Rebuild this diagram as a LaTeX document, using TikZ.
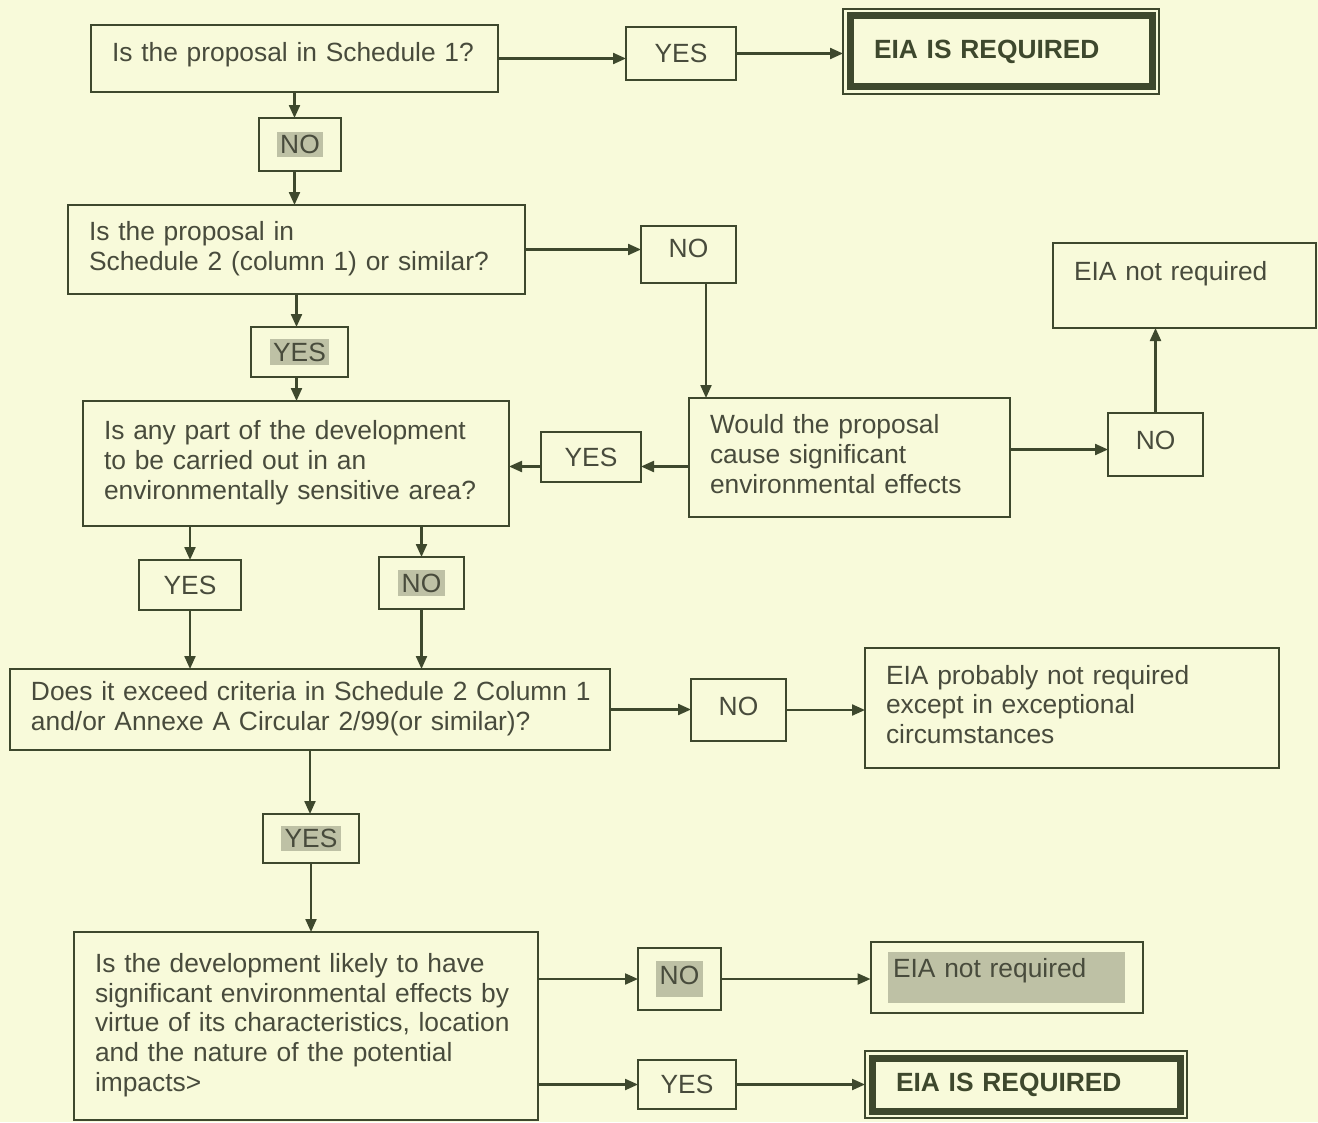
\documentclass[tikz,border=0pt]{standalone}
\usepackage{fontspec}
\setmainfont{Liberation Sans}
\usetikzlibrary{arrows.meta,positioning,calc,fit}

\definecolor{paper}{RGB}{248,250,218}
\definecolor{ink}{RGB}{62,72,45}
\definecolor{txt}{RGB}{72,75,60}
\definecolor{hl}{RGB}{190,193,165}

\newlength{\px}\setlength{\px}{0.02cm}
\newcommand{\qlines}[1]{\begin{tabular}{@{}l@{}}#1\end{tabular}}
\newcommand{\hlt}[1]{\colorbox{hl}{#1}}
\setlength{\fboxsep}{2pt}

\tikzset{
  box/.style={draw=ink, line width=2.2\px, text=txt, font=\fontsize{15}{17}\selectfont, inner sep=0pt, outer sep=0pt},
  question/.style={box, align=left, inner xsep=21\px},
  answer/.style={box, align=center},
  final/.style={box, line width=7\px, font=\fontsize{15}{17}\selectfont\bfseries, text=ink, align=left, inner xsep=24\px},
  frame/.style={draw=ink, line width=2\px, inner sep=7\px, outer sep=0pt},
  arr/.style={draw=ink, line width=2.2\px, -{Triangle[length=0.26cm,width=0.22cm]}}
}

\begin{document}
\begin{tikzpicture}[x=0.02cm, y=-0.02cm]
  \fill[paper] (0,0) rectangle (1318,1122); % page
  \useasboundingbox (0,0) rectangle (1318,1122);

  % first row
  \node[question, minimum width=407\px, minimum height=67\px, text width=365\px, text depth=7.4pt] (q1) at (294.5,58.5) {Is the proposal in Schedule 1?};
  \node[answer, minimum width=110\px, minimum height=53\px] (yes1) at (681,53.5) {YES};
  \node[final, minimum width=302\px, minimum height=71\px, text width=254\px] (eia1) at (1001,51.5) {EIA IS REQUIRED};
  \node[frame, fit=(eia1)] (eia1o) {};
  \node[answer, minimum width=82\px, minimum height=53\px] (no1) at (300,144.5) {\hlt{NO}};

  % schedule 2
  \node[question, minimum width=457\px, minimum height=89\px, text width=415\px] (q2) at (296.5,249.5) {\qlines{Is the proposal in\\Schedule 2 (column 1) or similar?}};
  \node[answer, minimum width=95\px, minimum height=57\px, text depth=7.4pt] (no2) at (688.5,254.5) {NO};
  \node[question, minimum width=263\px, minimum height=85\px, text width=221\px, text depth=16pt] (eianot1) at (1184.5,285.5) {EIA not required};
  \node[answer, minimum width=97\px, minimum height=50\px] (yes2) at (299.5,352) {\hlt{YES}};

  % sensitive area
  \node[question, minimum width=426\px, minimum height=125\px, text width=384\px] (q3) at (296,463.5) {\qlines{Is any part of the development\\to be carried out in an\\environmentally sensitive area?}};
  \node[answer, minimum width=100\px, minimum height=50\px] (yes3) at (591,457) {YES};
  \node[question, minimum width=321\px, minimum height=119\px, text width=279\px] (q4) at (849.5,457.5) {\qlines{Would the proposal\\cause significant\\environmental effects}};
  \node[answer, minimum width=95\px, minimum height=63\px, text depth=4.6pt] (no3) at (1155.5,444.5) {NO};
  \node[answer, minimum width=102\px, minimum height=50\px] (yes4) at (190,585) {YES};
  \node[answer, minimum width=85\px, minimum height=52\px] (no4) at (421.5,583) {\hlt{NO}};

  % criteria
  \node[question, minimum width=600\px, minimum height=81\px, text width=558\px] (q5) at (310,709.5) {\qlines{Does it exceed criteria in Schedule 2 Column 1\\and/or Annexe A Circular 2/99(or similar)?}};
  \node[answer, minimum width=95\px, minimum height=62\px, text depth=4.6pt] (no5) at (738.5,710) {NO};
  \node[question, minimum width=414\px, minimum height=120\px, text width=372\px] (eiaprob) at (1072,708) {\qlines{EIA probably not required\\except in exceptional\\circumstances}};
  \node[answer, minimum width=96\px, minimum height=49\px] (yes5) at (311,838.5) {\hlt{YES}};

  % significant effects
  \node[question, minimum width=464\px, minimum height=188\px, text width=422\px] (q6) at (306,1026) {\qlines{Is the development likely to have\\significant environmental effects by\\virtue of its characteristics, location\\and the nature of the potential\\impacts>}};
  \node[answer, minimum width=83\px, minimum height=62\px] (no6) at (679.5,979) {\hlt{\strut NO}};
  \node[box, draw=none, fill=hl, minimum width=237\px, minimum height=51\px, inner xsep=5\px, text width=227\px, align=left, text depth=11.4pt] (eiano2) at (1006.5,977.5) {EIA not required};
  \node[frame, fit=(eiano2), inner xsep=17.5\px, inner ysep=10\px] (eiano2o) {};
  \node[answer, minimum width=98\px, minimum height=49\px] (yes6) at (687,1084.5) {YES};
  \node[final, minimum width=308\px, minimum height=53\px, text width=260\px] (eia2) at (1026,1084.5) {EIA IS REQUIRED};
  \node[frame, fit=(eia2)] (eia2o) {};

  % connectors
  \draw[arr] (q1.east) -- (q1.east -| yes1.west);
  \draw[arr] (yes1.east) -- (yes1.east -| eia1o.west);
  \draw[arr] (q1.south) -- (q1.south |- no1.north);
  \draw[arr] (q1.south |- no1.south) -- (q1.south |- q2.north);
  \draw[arr] (q2.east) -- (q2.east -| no2.west);
  \draw[arr] (q2.south) -- (q2.south |- yes2.north);
  \draw[arr] (q2.south |- yes2.south) -- (q2.south |- q3.north);
  \draw[arr] ([xshift=17.5\px]no2.south) -- ([xshift=17.5\px]no2.south |- q4.north);
  \draw[arr] ([yshift=-9\px]q4.west) -- ([yshift=-9\px]q4.west -| yes3.east);
  \draw[arr] ([yshift=-9\px]q4.west -| yes3.west) -- ([yshift=-9\px]q4.west -| q3.east);
  \draw[arr] ([yshift=8\px]q4.east) -- ([yshift=8\px]q4.east -| no3.west);
  \draw[arr] (no3.north) -- (no3.north |- eianot1.south);
  \draw[arr] (yes4.north |- q3.south) -- (yes4.north);
  \draw[arr] (no4.north |- q3.south) -- (no4.north);
  \draw[arr] (yes4.south) -- (yes4.south |- q5.north);
  \draw[arr] (no4.south) -- (no4.south |- q5.north);
  \draw[arr] (q5.east) -- (q5.east -| no5.west);
  \draw[arr] (no5.east) -- (no5.east -| eiaprob.west);
  \draw[arr] (q5.south) -- (q5.south |- yes5.north);
  \draw[arr] (yes5.south) -- (yes5.south |- q6.north);
  \draw[arr] (no6.west -| q6.east) -- (no6.west);
  \draw[arr] (no6.east) -- (no6.east -| eiano2o.west);
  \draw[arr] (yes6.west -| q6.east) -- (yes6.west);
  \draw[arr] (yes6.east) -- (yes6.east -| eia2o.west);
\end{tikzpicture}
\end{document}
